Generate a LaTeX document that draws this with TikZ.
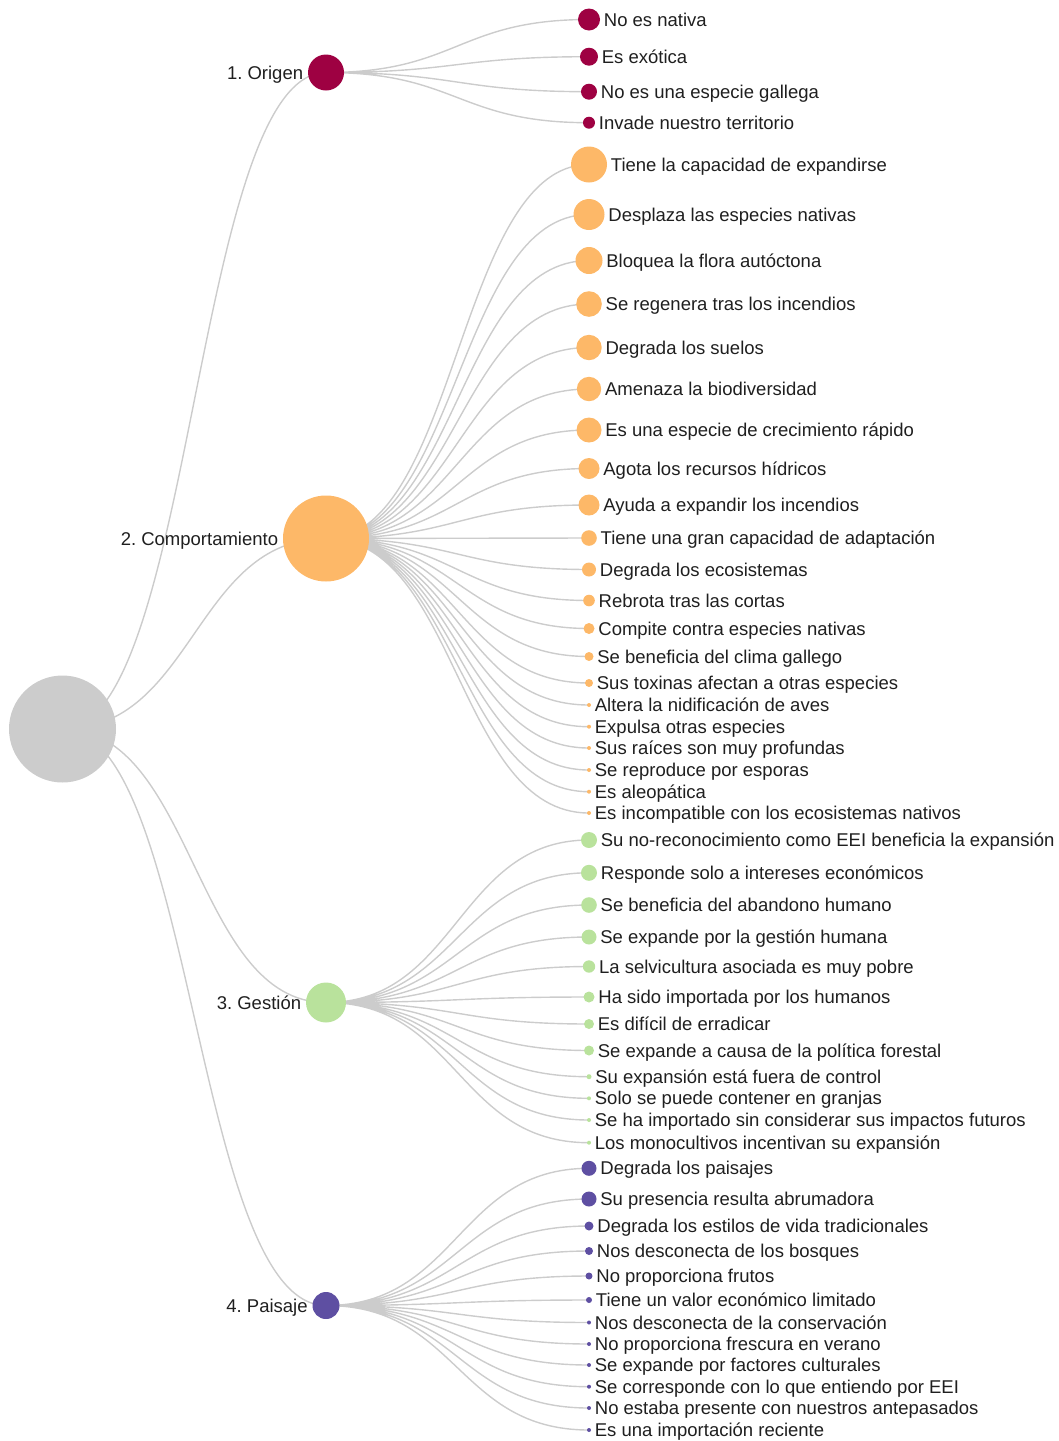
\documentclass[tikz,border=0pt]{standalone}
\usepackage{fontspec}
\setmainfont{Liberation Sans}
\usepackage{tikz}
\usetikzlibrary{positioning}
\usetikzlibrary{backgrounds}

\definecolor{rootcol}{HTML}{CCCCCC}
\definecolor{origencol}{HTML}{9E0142}
\definecolor{comportcol}{HTML}{FDB868}
\definecolor{gestioncol}{HTML}{B9E29C}
\definecolor{paisajecol}{HTML}{5E4FA2}

\begin{document}
\frenchspacing
\begin{tikzpicture}[x=1pt, y=-1pt,
  dot/.style={circle, inner sep=0pt},
  lbl/.style={inner sep=0pt, text height=13.2pt, text depth=0pt, text=black!88, font=\fontsize{18.5}{22}\selectfont},
  link/.style={draw=black!20, line width=1.4pt, to path={.. controls +(131.5,0) and +(-131.5,0) .. (\tikztotarget)}}]
\useasboundingbox (0,0) rectangle (1059,1441);
%%% Draws root and the four groups
\node[dot, fill=rootcol, minimum size=107] (r) at (62.5,729) {};
\node[dot, fill=origencol, minimum size=36] (o) at (326,72.5) {};
\node[dot, fill=comportcol, minimum size=86] (c) at (326,538.5) {};
\node[dot, fill=gestioncol, minimum size=40] (g) at (326,1002.5) {};
\node[dot, fill=paisajecol, minimum size=27] (p) at (326,1305.5) {};
% labels groups
\node[lbl, left=4.5pt of o] {1. Origen};
\node[lbl, left=4.5pt of c] {2. Comportamiento};
\node[lbl, left=4.5pt of g] {3. Gestión};
\node[lbl, left=4.5pt of p] {4. Paisaje};
%%% Draws Origen leaves
\node[dot, fill=origencol, minimum size=22] (o1) at (589,19.5) {};
\node[dot, fill=origencol, minimum size=18] (o2) at (589,56.7) {};
\node[dot, fill=origencol, minimum size=16] (o3) at (589,91.7) {};
\node[dot, fill=origencol, minimum size=12] (o4) at (589,122.7) {};
\node[lbl, right=3.5pt of o1] {No es nativa};
\node[lbl, right=3.5pt of o2] {Es exótica};
\node[lbl, right=3.5pt of o3] {No es una especie gallega};
\node[lbl, right=3.5pt of o4] {Invade nuestro territorio};
%%% Draws Comportamiento leaves
\node[dot, fill=comportcol, minimum size=36] (c1) at (589,164.5) {};
\node[dot, fill=comportcol, minimum size=31] (c2) at (589,214.5) {};
\node[dot, fill=comportcol, minimum size=27] (c3) at (589,260.5) {};
\node[dot, fill=comportcol, minimum size=25.6] (c4) at (589,304) {};
\node[dot, fill=comportcol, minimum size=25.4] (c5) at (589,347.5) {};
\node[dot, fill=comportcol, minimum size=24.4] (c6) at (589,389) {};
\node[dot, fill=comportcol, minimum size=25] (c7) at (589,430) {};
\node[dot, fill=comportcol, minimum size=21] (c8) at (589,468.5) {};
\node[dot, fill=comportcol, minimum size=21] (c9) at (589,505) {};
\node[dot, fill=comportcol, minimum size=15.6] (c10) at (589,538) {};
\node[dot, fill=comportcol, minimum size=14] (c11) at (589,569.5) {};
\node[dot, fill=comportcol, minimum size=11.6] (c12) at (589,600.5) {};
\node[dot, fill=comportcol, minimum size=11] (c13) at (589,628.5) {};
\node[dot, fill=comportcol, minimum size=9] (c14) at (589,656.5) {};
\node[dot, fill=comportcol, minimum size=8] (c15) at (589,683) {};
\node[dot, fill=comportcol, minimum size=4] (c16) at (589,705) {};
\node[dot, fill=comportcol, minimum size=4] (c17) at (589,726.7) {};
\node[dot, fill=comportcol, minimum size=4] (c18) at (589,748) {};
\node[dot, fill=comportcol, minimum size=4] (c19) at (589,770) {};
\node[dot, fill=comportcol, minimum size=4] (c20) at (589,791.7) {};
\node[dot, fill=comportcol, minimum size=4] (c21) at (589,813) {};
\node[lbl, right=3.5pt of c1] {Tiene la capacidad de expandirse};
\node[lbl, right=3.5pt of c2] {Desplaza las especies nativas};
\node[lbl, right=3.5pt of c3] {Bloquea la flora autóctona};
\node[lbl, right=3.5pt of c4] {Se regenera tras los incendios};
\node[lbl, right=3.5pt of c5] {Degrada los suelos};
\node[lbl, right=3.5pt of c6] {Amenaza la biodiversidad};
\node[lbl, right=3.5pt of c7] {Es una especie de crecimiento rápido};
\node[lbl, right=3.5pt of c8] {Agota los recursos hídricos};
\node[lbl, right=3.5pt of c9] {Ayuda a expandir los incendios};
\node[lbl, right=3.5pt of c10] {Tiene una gran capacidad de adaptación};
\node[lbl, right=3.5pt of c11] {Degrada los ecosistemas};
\node[lbl, right=3.5pt of c12] {Rebrota tras las cortas};
\node[lbl, right=3.5pt of c13] {Compite contra especies nativas};
\node[lbl, right=3.5pt of c14] {Se beneficia del clima gallego};
\node[lbl, right=3.5pt of c15] {Sus toxinas afectan a otras especies};
\node[lbl, right=3.5pt of c16] {Altera la nidificación de aves};
\node[lbl, right=3.5pt of c17] {Expulsa otras especies};
\node[lbl, right=3.5pt of c18] {Sus raíces son muy profundas};
\node[lbl, right=3.5pt of c19] {Se reproduce por esporas};
\node[lbl, right=3.5pt of c20] {Es aleopática};
\node[lbl, right=3.5pt of c21] {Es incompatible con los ecosistemas nativos};
%%% Draws Gestion leaves
\node[dot, fill=gestioncol, minimum size=16] (g1) at (589,840) {};
\node[dot, fill=gestioncol, minimum size=16] (g2) at (589,872.8) {};
\node[dot, fill=gestioncol, minimum size=15.6] (g3) at (589,905) {};
\node[dot, fill=gestioncol, minimum size=15] (g4) at (589,937) {};
\node[dot, fill=gestioncol, minimum size=12.4] (g5) at (589,966.5) {};
\node[dot, fill=gestioncol, minimum size=11] (g6) at (589,997) {};
\node[dot, fill=gestioncol, minimum size=10] (g7) at (589,1024) {};
\node[dot, fill=gestioncol, minimum size=10] (g8) at (589,1050.5) {};
\node[dot, fill=gestioncol, minimum size=5] (g9) at (589,1076.7) {};
\node[dot, fill=gestioncol, minimum size=4] (g10) at (589,1098.3) {};
\node[dot, fill=gestioncol, minimum size=4] (g11) at (589,1120) {};
\node[dot, fill=gestioncol, minimum size=4] (g12) at (589,1142.7) {};
\node[lbl, right=3.5pt of g1] {Su no-reconocimiento como EEI beneficia la expansión};
\node[lbl, right=3.5pt of g2] {Responde solo a intereses económicos};
\node[lbl, right=3.5pt of g3] {Se beneficia del abandono humano};
\node[lbl, right=3.5pt of g4] {Se expande por la gestión humana};
\node[lbl, right=3.5pt of g5] {La selvicultura asociada es muy pobre};
\node[lbl, right=3.5pt of g6] {Ha sido importada por los humanos};
\node[lbl, right=3.5pt of g7] {Es difícil de erradicar};
\node[lbl, right=3.5pt of g8] {Se expande a causa de la política forestal};
\node[lbl, right=3.5pt of g9] {Su expansión está fuera de control};
\node[lbl, right=3.5pt of g10] {Solo se puede contener en granjas};
\node[lbl, right=3.5pt of g11] {Se ha importado sin considerar sus impactos futuros};
\node[lbl, right=3.5pt of g12] {Los monocultivos incentivan su expansión};
%%% Draws Paisaje leaves
\node[dot, fill=paisajecol, minimum size=15] (p1) at (589,1168.3) {};
\node[dot, fill=paisajecol, minimum size=15] (p2) at (589,1199) {};
\node[dot, fill=paisajecol, minimum size=9] (p3) at (589,1226) {};
\node[dot, fill=paisajecol, minimum size=8] (p4) at (589,1251) {};
\node[dot, fill=paisajecol, minimum size=7] (p5) at (589,1276) {};
\node[dot, fill=paisajecol, minimum size=6] (p6) at (589,1300) {};
\node[dot, fill=paisajecol, minimum size=4] (p7) at (589,1322.5) {};
\node[dot, fill=paisajecol, minimum size=4] (p8) at (589,1344) {};
\node[dot, fill=paisajecol, minimum size=4] (p9) at (589,1365) {};
\node[dot, fill=paisajecol, minimum size=4] (p10) at (589,1386.7) {};
\node[dot, fill=paisajecol, minimum size=4] (p11) at (589,1408) {};
\node[dot, fill=paisajecol, minimum size=4] (p12) at (589,1430) {};
\node[lbl, right=3.5pt of p1] {Degrada los paisajes};
\node[lbl, right=3.5pt of p2] {Su presencia resulta abrumadora};
\node[lbl, right=3.5pt of p3] {Degrada los estilos de vida tradicionales};
\node[lbl, right=3.5pt of p4] {Nos desconecta de los bosques};
\node[lbl, right=3.5pt of p5] {No proporciona frutos};
\node[lbl, right=3.5pt of p6] {Tiene un valor económico limitado};
\node[lbl, right=3.5pt of p7] {Nos desconecta de la conservación};
\node[lbl, right=3.5pt of p8] {No proporciona frescura en verano};
\node[lbl, right=3.5pt of p9] {Se expande por factores culturales};
\node[lbl, right=3.5pt of p10] {Se corresponde con lo que entiendo por EEI};
\node[lbl, right=3.5pt of p11] {No estaba presente con nuestros antepasados};
\node[lbl, right=3.5pt of p12] {Es una importación reciente};
%%% Draws links behind the circles
\begin{scope}[on background layer]
% root to groups
\draw[link] (r.center) to (o.center) (r.center) to (c.center) (r.center) to (g.center) (r.center) to (p.center);
% groups to leaves
\draw[link] (o.center) to (o1.center) (o.center) to (o2.center) (o.center) to (o3.center) (o.center) to (o4.center);
\draw[link] (c.center) to (c1.center) (c.center) to (c2.center) (c.center) to (c3.center) (c.center) to (c4.center)
  (c.center) to (c5.center) (c.center) to (c6.center) (c.center) to (c7.center) (c.center) to (c8.center)
  (c.center) to (c9.center) (c.center) to (c10.center) (c.center) to (c11.center) (c.center) to (c12.center)
  (c.center) to (c13.center) (c.center) to (c14.center) (c.center) to (c15.center) (c.center) to (c16.center)
  (c.center) to (c17.center) (c.center) to (c18.center) (c.center) to (c19.center) (c.center) to (c20.center)
  (c.center) to (c21.center);
\draw[link] (g.center) to (g1.center) (g.center) to (g2.center) (g.center) to (g3.center) (g.center) to (g4.center)
  (g.center) to (g5.center) (g.center) to (g6.center) (g.center) to (g7.center) (g.center) to (g8.center)
  (g.center) to (g9.center) (g.center) to (g10.center) (g.center) to (g11.center) (g.center) to (g12.center);
\draw[link] (p.center) to (p1.center) (p.center) to (p2.center) (p.center) to (p3.center) (p.center) to (p4.center)
  (p.center) to (p5.center) (p.center) to (p6.center) (p.center) to (p7.center) (p.center) to (p8.center)
  (p.center) to (p9.center) (p.center) to (p10.center) (p.center) to (p11.center) (p.center) to (p12.center);
\end{scope}
\end{tikzpicture}
\end{document}
